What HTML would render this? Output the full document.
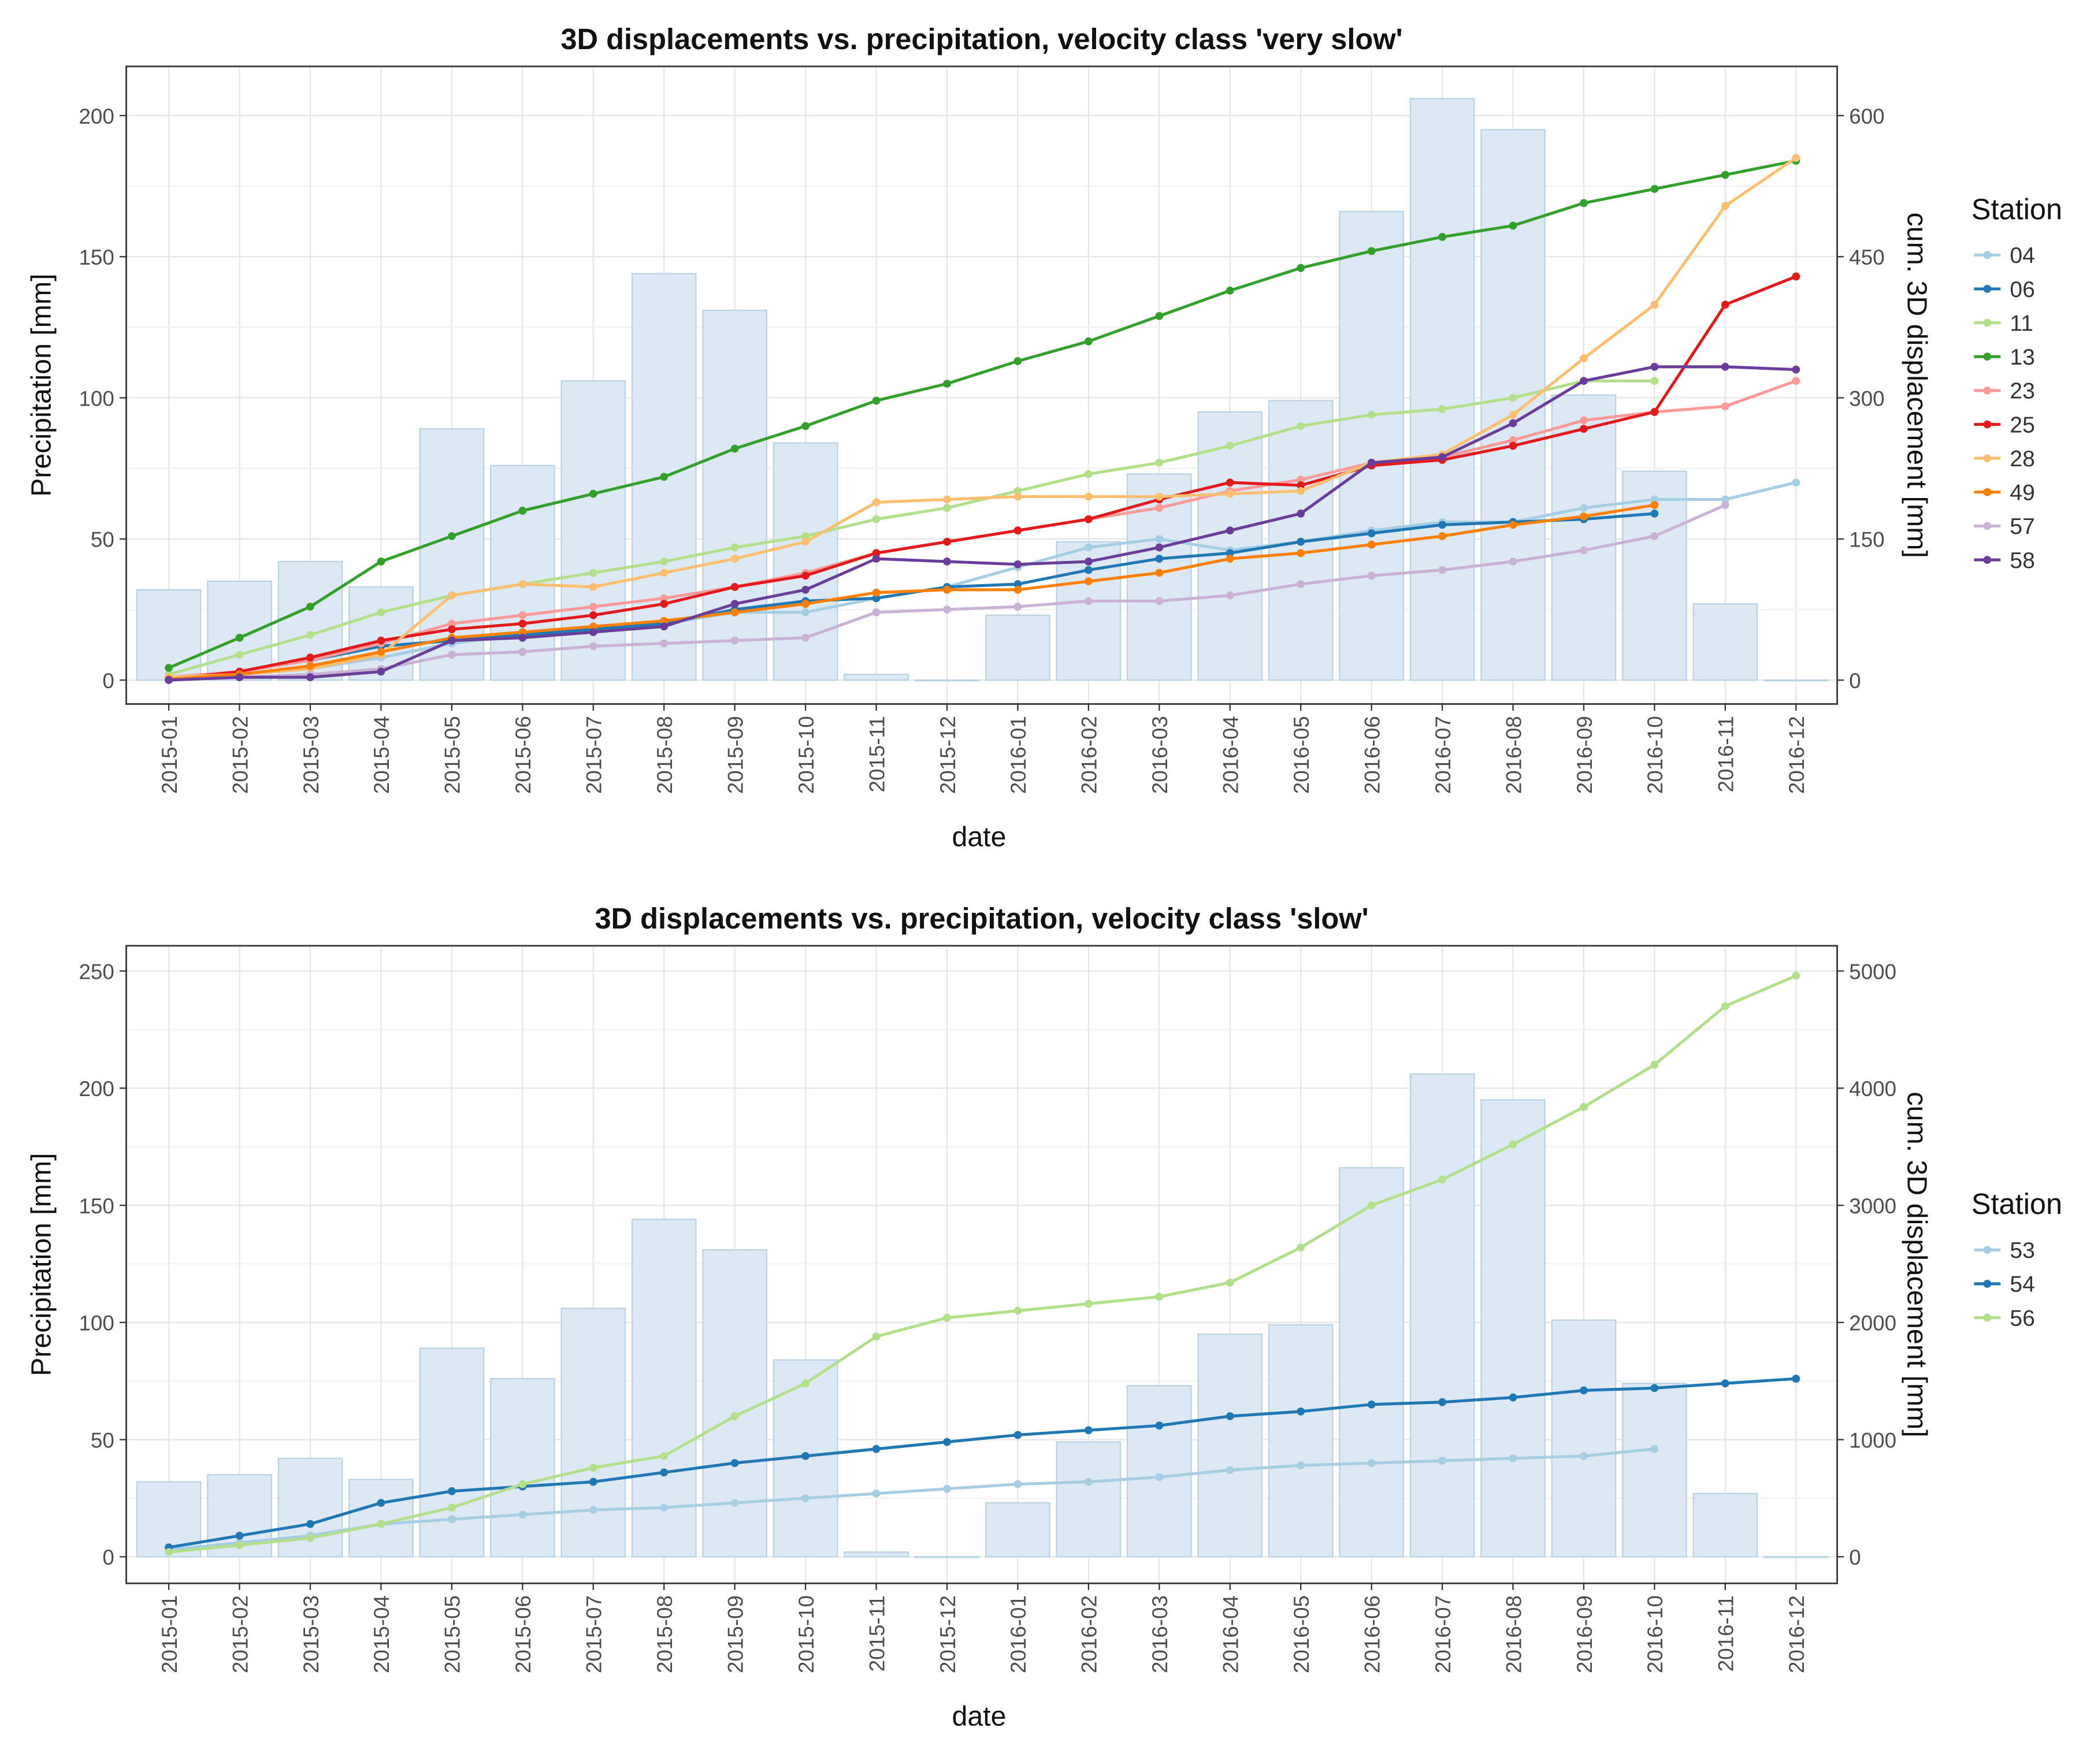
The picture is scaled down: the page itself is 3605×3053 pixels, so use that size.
<!DOCTYPE html>
<html><head><meta charset="utf-8"><style>body{margin:0;background:#fff}svg{display:block}</style></head>
<body>
<svg id="chart" width="3605" height="3053" viewBox="0 0 1568 1328" xmlns="http://www.w3.org/2000/svg" font-family="Liberation Sans, sans-serif"></svg>
<script>
const months=["2015-01","2015-02","2015-03","2015-04","2015-05","2015-06","2015-07","2015-08","2015-09","2015-10","2015-11","2015-12","2016-01","2016-02","2016-03","2016-04","2016-05","2016-06","2016-07","2016-08","2016-09","2016-10","2016-11","2016-12"];
const precip=[32,35,42,33,89,76,106,144,131,84,2,0,23,49,73,95,99,166,206,195,101,74,27,0];
// top panel series (mm cumulative)
const s04=[3,6,12,24,39,48,54,60,72,72,87,99,120,141,150,138,147,159,168,168,183,192,192,210];
const s06=[3,9,21,36,42,48,54,60,75,84,87,99,102,117,129,135,147,156,165,168,171,177];
const s11=[6,27,48,72,90,102,114,126,141,153,171,183,201,219,231,249,270,282,288,300,318,318];
const s13=[13,45,78,126,153,180,198,216,246,270,297,315,339,360,387,414,438,456,471,483,507,522,537,552];
const s23=[3,9,21,39,60,69,78,87,99,114,135,147,159,171,183,201,213,231,237,255,276,285,291,318];
const s25=[1,9,24,42,54,60,69,81,99,111,135,147,159,171,192,210,207,228,234,249,267,285,399,429];
const s28=[3,6,12,27,90,102,99,114,129,147,189,192,195,195,195,198,201,231,240,282,342,399,504,555];
const s49=[1,6,15,30,45,51,57,63,72,81,93,96,96,105,114,129,135,144,153,165,174,186];
const s57=[0,3,6,12,27,30,36,39,42,45,72,75,78,84,84,90,102,111,117,126,138,153,186];
const s58=[0,3,3,9,42,45,51,57,81,96,129,126,123,126,141,159,177,231,237,273,318,333,333,330];
// bottom panel series
const s53=[60,120,180,280,320,360,400,420,460,500,540,580,620,640,680,740,780,800,820,840,860,920];
const s54=[80,180,280,460,560,600,640,720,800,860,920,980,1040,1080,1120,1200,1240,1300,1320,1360,1420,1440,1480,1520];
const s56=[40,100,160,280,420,620,760,860,1200,1480,1880,2040,2100,2160,2220,2340,2640,3000,3220,3520,3840,4200,4700,4960];
const topSeries=[["04",s04,"#a6cee3"],["06",s06,"#1f78b4"],["11",s11,"#b2df8a"],["13",s13,"#33a02c"],["23",s23,"#fb9a99"],["25",s25,"#e31a1c"],["28",s28,"#fdbf6f"],["49",s49,"#ff7f00"],["57",s57,"#cab2d6"],["58",s58,"#6a3d9a"]];
const botSeries=[["53",s53,"#a6cee3"],["54",s54,"#1f78b4"],["56",s56,"#b2df8a"]];
const leftTicksTop=[0,50,100,150,200], rightTicksTop=[0,150,300,450,600];
const leftTicksBot=[0,50,100,150,200,250], rightTicksBot=[0,1000,2000,3000,4000,5000];

const svg=document.getElementById('chart');
const NS="http://www.w3.org/2000/svg";
function mk(tag,attrs,parent,text){const e=document.createElementNS(NS,tag);for(const k in attrs)e.setAttribute(k,attrs[k]);if(text!==undefined)e.textContent=text;(parent||svg).appendChild(e);return e;}

function panel(p){
  const g=mk('g',{});
  
  
  const X0=95,X1=1383,Y0=p.top,Y1=p.top+480;
  const xs=i=>127+i*(1352-127)/23;
  const yl=v=>p.zeroY-(v/p.lmax)*(p.zeroY-p.maxY);
  const yr=v=>p.zeroY-(v/p.rmax)*(p.zeroY-p.maxY);
  mk('rect',{x:X0,y:Y0,width:X1-X0,height:Y1-Y0,fill:'#fff'},g);
  for(let i=0;i<months.length;i++)mk('line',{x1:xs(i),x2:xs(i),y1:Y0,y2:Y1,stroke:'#e6e6e6','stroke-width':1},g);
  for(let i=0;i<p.lt.length;i++){mk('line',{x1:X0,x2:X1,y1:yl(p.lt[i]),y2:yl(p.lt[i]),stroke:'#e6e6e6'},g);
    if(i<p.lt.length-1)mk('line',{x1:X0,x2:X1,y1:yl((p.lt[i]+p.lt[i+1])/2),y2:yl((p.lt[i]+p.lt[i+1])/2),stroke:'#f2f2f2'},g);}
  precip.forEach((v,i)=>{const b=mk('rect',{x:xs(i)-24,y:yl(v),width:48,height:Math.max(yl(0)-yl(v),0.5),fill:'#dce9f5',stroke:'#b9d3e3','stroke-width':1},g);
    
    });
  p.series.forEach(([nm,vals,col])=>{
    const pts=vals.map((v,i)=>xs(i)+','+yr(v)).join(' ');
    const l=mk('polyline',{points:pts,fill:'none',stroke:col,'stroke-width':2.2},g);
    
    
    vals.forEach((v,i)=>mk('circle',{cx:xs(i),cy:yr(v),r:3,fill:col},g));
  });
  mk('rect',{x:X0,y:Y0,width:X1-X0,height:Y1-Y0,fill:'none',stroke:'#333','stroke-width':1.2},g);
  p.lt.forEach(v=>{mk('line',{x1:X0-5,x2:X0,y1:yl(v),y2:yl(v),stroke:'#333'},g);
    mk('text',{x:X0-9,y:yl(v)+6,'text-anchor':'end','font-size':16,fill:'#4d4d4d'},g,v);});
  p.rt.forEach(v=>{mk('line',{x1:X1,x2:X1+5,y1:yr(v),y2:yr(v),stroke:'#333'},g);
    mk('text',{x:X1+9,y:yr(v)+6,'text-anchor':'start','font-size':16,fill:'#4d4d4d'},g,v);});
  months.forEach((m,i)=>{mk('line',{x1:xs(i),x2:xs(i),y1:Y1,y2:Y1+5,stroke:'#333'},g);
    mk('text',{x:xs(i)+6,y:Y1+9,'text-anchor':'end','font-size':16,fill:'#4d4d4d',transform:`rotate(-90 ${xs(i)+6} ${Y1+9})`},g,m);});
  const t=mk('text',{x:739,y:Y0-13,'text-anchor':'middle','font-size':22,'font-weight':'bold',fill:'#111'},g,p.title);
  
  mk('text',{x:737,y:Y1+107,'text-anchor':'middle','font-size':21,fill:'#111'},g,'date');
  const cy=(Y0+Y1)/2;
  mk('text',{x:38,y:cy,'text-anchor':'middle','font-size':21,fill:'#111',transform:`rotate(-90 38 ${cy})`},g,'Precipitation [mm]');
  mk('text',{x:1436,y:cy,'text-anchor':'middle','font-size':21,fill:'#111',transform:`rotate(90 1436 ${cy})`},g,'cum. 3D displacement [mm]');
  const lg=mk('g',{},g);
  mk('text',{x:1484,y:p.legY,'font-size':22,fill:'#111'},lg,'Station');
  p.series.forEach(([nm,vals,col],k)=>{const yy=p.legY+27+k*25.5;
    mk('line',{x1:1486,x2:1506,y1:yy,y2:yy,stroke:col,'stroke-width':2.2},lg);
    mk('circle',{cx:1496,cy:yy,r:3,fill:col},lg);
    mk('text',{x:1513,y:yy+6,'font-size':17,fill:'#333'},lg,nm);});
}
panel({name:'panel-very-slow',top:50,zeroY:512,maxY:87,lmax:200,rmax:600,lt:leftTicksTop,rt:rightTicksTop,series:topSeries,title:"3D displacements vs. precipitation, velocity class 'very slow'",legY:165});
panel({name:'panel-slow',top:712,zeroY:1172,maxY:731,lmax:250,rmax:5000,lt:leftTicksBot,rt:rightTicksBot,series:botSeries,title:"3D displacements vs. precipitation, velocity class 'slow'",legY:914});
</script>
</body></html>
